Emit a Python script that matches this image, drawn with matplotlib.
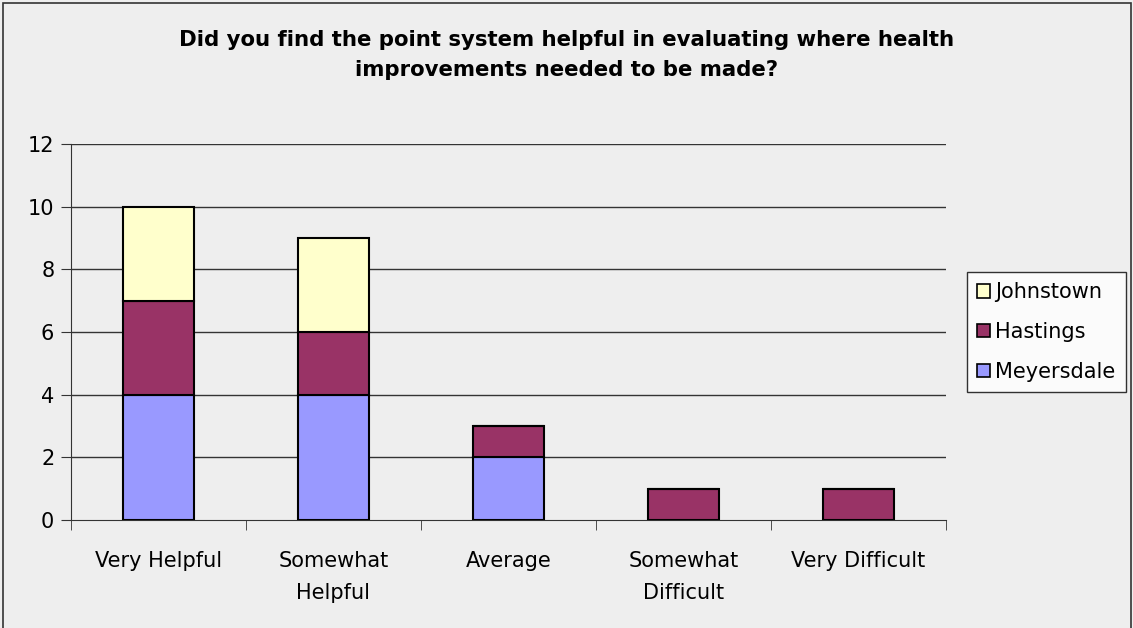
import matplotlib
matplotlib.use("Agg")
import matplotlib.pyplot as plt
from matplotlib.patches import Rectangle
import numpy as np

categories = ["Very Helpful", "Somewhat\nHelpful", "Average", "Somewhat\nDifficult", "Very Difficult"]
meyersdale = [4, 4, 2, 0, 0]
hastings = [3, 2, 1, 1, 1]
johnstown = [3, 3, 0, 0, 0]
y_ticks = [0, 2, 4, 6, 8, 10, 12]

colors = {"Meyersdale": "#9999FF", "Hastings": "#993366", "Johnstown": "#FFFFCC"}
bg = "#EEEEEE"

W, H = 1133, 628
fig = plt.figure(figsize=(W / 100, H / 100), dpi=100, facecolor=bg)

# outer chart-area border
fig.patches.append(Rectangle((3 / W, -0.01), (W - 5) / W, 1 - 3 / H + 0.01,
                             transform=fig.transFigure, fill=False,
                             edgecolor="#333333", linewidth=1.2))

ax = fig.add_axes([71 / W, (H - 520) / H, (946 - 71) / W, (520 - 144) / H])
ax.set_facecolor(bg)

x = np.arange(len(categories))
width = 0.41
bottom = np.zeros(len(categories))
series = [("Meyersdale", meyersdale), ("Hastings", hastings), ("Johnstown", johnstown)]
handles = {}
for name, vals in series:
    vals = np.array(vals, dtype=float)
    bars = ax.bar(x, vals, width, bottom=bottom, color=colors[name],
                  edgecolor="black", linewidth=1.5, zorder=3, label=name)
    handles[name] = bars
    bottom += vals

fs = 15
ax.set_xlim(-0.5, len(categories) - 0.5)
ax.set_ylim(0, 12)
ax.set_yticks(y_ticks)
ax.set_yticklabels([str(v) for v in y_ticks], fontsize=fs)
for v in y_ticks[1:]:
    ax.axhline(v, color="#333333", linewidth=1, zorder=1)

ax.set_xticks(x)
ax.set_xticklabels(categories, fontsize=fs, linespacing=1.75)
ax.tick_params(axis="x", length=0, pad=22)
ax.set_xticks(np.arange(-0.5, len(categories)), minor=True)
ax.tick_params(axis="x", which="minor", length=7, direction="out", color="#333333")
ax.tick_params(axis="y", length=7, direction="out", color="#333333", pad=5)

for s in ["top", "right"]:
    ax.spines[s].set_visible(False)
ax.spines["left"].set_color("#333333")
ax.spines["bottom"].set_color("#333333")

fig.text(0.5, 1 - 55 / H, "Did you find the point system helpful in evaluating where health\nimprovements needed to be made?",
         ha="center", va="center", fontsize=15.3, fontweight="bold", linespacing=1.6)

leg = fig.legend([handles["Johnstown"], handles["Hastings"], handles["Meyersdale"]],
                 ["Johnstown", "Hastings", "Meyersdale"],
                 loc="upper left", bbox_to_anchor=(967 / W, 1 - 272 / H),
                 frameon=True, fancybox=False, fontsize=fs,
                 handlelength=0.6, handleheight=0.6, handletextpad=0.25,
                 labelspacing=0.95, borderpad=0.5, borderaxespad=0)
leg.get_frame().set_edgecolor("black")
leg.get_frame().set_facecolor("white")
leg.get_frame().set_linewidth(1)
for p in leg.get_patches():
    p.set_linewidth(1.2)

fig.savefig("out.png", dpi=100, facecolor=bg)
